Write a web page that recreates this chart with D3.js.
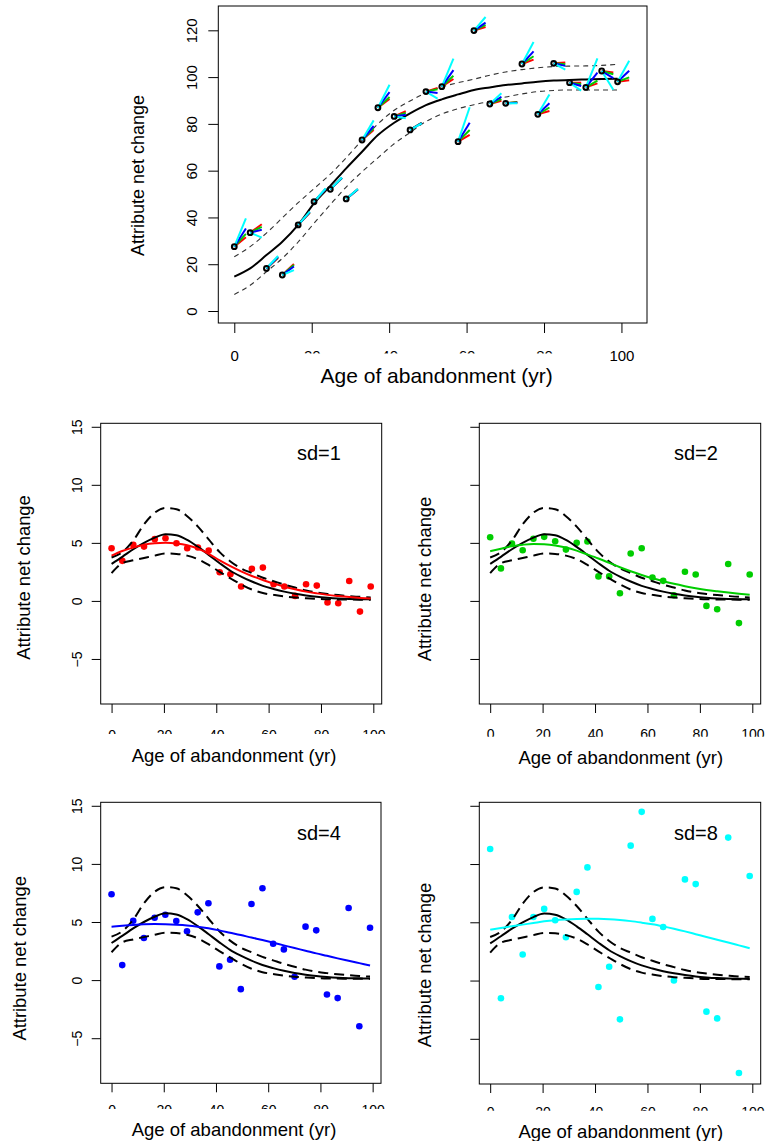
<!DOCTYPE html>
<meta charset="utf-8">
<style>
body { margin: 0; background: #fff; }
svg { font-family: "Liberation Sans", Arial, sans-serif; }
</style>
<svg width="765" height="1141"></svg>
<script src="https://d3js.org/d3.v7.min.js"></script>
<script>

// ---- data ----
var ages = [0, 4.1, 8.3, 12.4, 16.5, 20.6, 24.8, 28.9, 33, 37.1, 41.3, 45.4, 49.5,
            53.6, 57.8, 61.9, 66, 70.1, 74.3, 78.4, 82.5, 86.6, 90.8, 94.9, 99];

// top panel
var topValues = [27.5, 33.5, 18.2, 15.4, 36.8, 46.7, 52, 47.9, 73.1, 86.9, 83.2, 77.4, 93.8,
                 95.9, 72.4, 119.9, 88.5, 88.8, 105.6, 84.1, 105.9, 97.6, 95.6, 102.6, 98.0];
var topFit = [14.7, 18.2, 23.9, 29.6, 36.8, 46.0, 53.5, 61.0, 68.1, 75.2, 80.5, 84.5, 88.0,
              90.5, 92.6, 94.5, 95.6, 96.6, 97.3, 98.0, 98.5, 98.8, 99.0, 99.2, 99.3];
var topUpper = [23.2, 27.5, 33.3, 39.8, 46.3, 52.3, 58.5, 65.5, 73.0, 80.0, 85.8, 89.8, 93.2,
                95.8, 97.6, 99.1, 100.8, 102.2, 103.2, 104.0, 104.5, 104.7, 104.8, 105.0, 105.5];
var topLower = [7.1, 11.0, 16.8, 22.5, 29.5, 37.5, 45.5, 53.0, 59.5, 65.5, 71.5, 76.3, 81.0,
                84.2, 86.5, 88.2, 89.7, 91.5, 92.8, 93.8, 94.3, 94.5, 94.5, 94.5, 94.5];

// fan segments: rise of each segment end (value units) over a run of fanRun years
var fanRun = 3;
var fanRed   = [4.0, 3.6, 4.5, 4.7, 5.2, 5.3, 4.8, 4.1, 4.3, 3.8, 2.2, 3.0, 1.6,
                3.3, 2.9, 1.5, 1.4, 0.6, 1.9, 1.4, 0.3, 0.0, 1.7, -0.6, 0.7];
var fanGreen = [5.5, 2.5, 4.8, 4.3, 5.4, 5.4, 4.9, 4.2, 5.0, 4.6, 1.5, 3.0, 1.0,
                4.7, 5.0, 2.4, 2.1, 0.4, 3.3, 2.9, -0.4, -0.7, 2.9, -1.4, 1.9];
var fanBlue  = [7.8, 1.2, 5.0, 3.6, 5.5, 5.5, 5.0, 4.2, 6.0, 6.7, 0.7, 2.9, -0.6,
                7.1, 8.1, 3.4, 3.1, 0.2, 5.4, 4.7, -1.1, -1.4, 6.3, -3.0, 4.7];
var fanCyan  = [12.1, -2.1, 5.3, 2.1, 5.7, 5.7, 5.1, 4.3, 8.4, 9.8, -0.8, 2.8, -3.0,
                12.0, 14.7, 5.8, 4.6, 0.0, 9.4, 8.5, -2.7, -3.4, 12.4, -8.0, 9.0];

// lower panels: common true curve with bounds
var meanCurve  = [3.19, 3.8, 4.45, 5.0, 5.45, 5.75, 5.65, 5.25, 4.65, 3.97, 3.25, 2.6, 2.1,
                  1.67, 1.3, 1.03, 0.8, 0.62, 0.47, 0.35, 0.27, 0.21, 0.17, 0.15, 0.14];
var upperCurve = [3.74, 4.2, 5.2, 6.6, 7.6, 8.0, 7.9, 7.3, 6.4, 5.3, 4.2, 3.4, 2.8,
                  2.4, 2.0, 1.7, 1.4, 1.15, 0.9, 0.72, 0.6, 0.5, 0.42, 0.35, 0.3];
var lowerCurve = [2.4, 3.25, 3.5, 3.7, 3.9, 4.08, 4.05, 3.9, 3.6, 3.1, 2.5, 1.95, 1.42,
                  0.98, 0.68, 0.52, 0.38, 0.29, 0.23, 0.18, 0.14, 0.13, 0.12, 0.11, 0.11];

var sd1Points = [4.54, 3.45, 4.83, 4.68, 5.32, 5.4, 4.97, 4.54, 4.6, 4.34, 2.47, 2.3, 1.24,
                 2.76, 2.87, 1.44, 1.24, 0.43, 1.44, 1.32, -0.14, -0.2, 1.72, -0.92, 1.24];
var sd2Points = [5.49, 2.8, 4.94, 4.36, 5.35, 5.52, 5.14, 4.42, 5.0, 5.12, 2.11, 2.11, 0.66,
                 4.08, 4.54, 2.02, 1.73, 0.49, 2.51, 2.28, -0.43, -0.72, 3.18, -1.91, 2.28];
var sd4Points = [7.39, 1.29, 5.11, 3.62, 5.37, 5.63, 5.09, 4.2, 5.83, 6.61, 1.18, 1.75, -0.78,
                 6.55, 7.9, 3.13, 2.64, 0.29, 4.6, 4.28, -1.24, -1.55, 6.21, -3.97, 4.51];
var sd8Points = [11.29, -1.52, 5.46, 2.24, 5.46, 6.15, 5.17, 3.71, 7.61, 9.71, -0.55, 1.18, -3.33,
                 11.58, 14.48, 5.29, 4.6, 0.0, 8.68, 8.28, -2.67, -3.25, 12.27, -7.93, 8.97];

var sd1Smooth = [3.9, 4.3, 4.6, 4.85, 4.97, 5.0, 4.95, 4.8, 4.5, 4.05, 3.5, 3.0, 2.55,
                 2.15, 1.8, 1.5, 1.22, 1.0, 0.8, 0.65, 0.52, 0.42, 0.33, 0.26, 0.2];
var sd2Smooth = [4.28, 4.5, 4.71, 4.84, 4.91, 4.88, 4.78, 4.6, 4.33, 4.0, 3.65, 3.28, 2.9,
                 2.55, 2.23, 1.95, 1.7, 1.47, 1.27, 1.1, 0.95, 0.83, 0.72, 0.62, 0.53];
var sd4Smooth = [4.6, 4.68, 4.75, 4.8, 4.82, 4.8, 4.76, 4.7, 4.6, 4.46, 4.28, 4.08, 3.88,
                 3.66, 3.45, 3.22, 2.99, 2.76, 2.53, 2.3, 2.09, 1.87, 1.66, 1.46, 1.26];
var sd8Smooth = [4.37, 4.52, 4.66, 4.8, 4.94, 5.08, 5.18, 5.24, 5.28, 5.3, 5.3, 5.27, 5.2,
                 5.1, 4.97, 4.83, 4.65, 4.45, 4.22, 3.98, 3.74, 3.5, 3.26, 3.02, 2.78];

var sdLabels = ["sd=1", "sd=2", "sd=4", "sd=8"];
var ageTicks = [0, 20, 40, 60, 80, 100];
var topYTicks = [0, 20, 40, 60, 80, 100, 120];
var lowerYTicks = [-5, 0, 5, 10, 15];
var xTitle = "Age of abandonment (yr)";
var yTitle = "Attribute net change";

var RED = "#ff0000", GREEN = "#00cd00", BLUE = "#0000ff", CYAN = "#00ffff";

var svg = d3.select("svg");
var defs = svg.append("defs");
var clipCount = 0;

function zip(ys) { return ages.map(function(a, i) { return [a, ys[i]]; }); }

// frame, ticks, tick labels and titles, R style
function frame(p) {
  var x = d3.scaleLinear().domain(p.xDomain).range([p.box[0], p.box[1]]);
  var y = d3.scaleLinear().domain(p.yDomain).range([p.box[3], p.box[2]]);

  var clipId = "clip" + (clipCount++);
  defs.append("clipPath").attr("id", clipId)
    .append("rect")
      .attr("x", -60).attr("width", 120)
      .attr("y", -5).attr("height", p.clipRel + 5);

  var gx = svg.append("g")
      .attr("transform", "translate(0," + p.box[3] + ")")
      .call(d3.axisBottom(x).tickValues(ageTicks).tickSize(p.tickLen).tickSizeOuter(0)
            .tickFormat(d3.format("d")));
  gx.attr("font-size", p.tickFont).attr("font-family", null);
  gx.select(".domain").remove();
  gx.selectAll("line").attr("stroke", "#000");
  gx.selectAll("text")
      .attr("y", p.xLabelY).attr("dy", null)
      .attr("fill", "#000")
      .attr("clip-path", function(d) { return p.clipTick(d) ? "url(#" + clipId + ")" : null; });

  var gy = svg.append("g")
      .attr("transform", "translate(" + p.box[0] + ",0)")
      .call(d3.axisLeft(y).tickValues(p.yTicks).tickSize(p.tickLen).tickSizeOuter(0)
            .tickFormat(d3.format("d")));
  gy.attr("font-size", p.tickFont).attr("font-family", null);
  gy.select(".domain").remove();
  gy.selectAll("line").attr("stroke", "#000");
  if (p.yLabelOff) {
    gy.selectAll("text")
        .attr("x", 0).attr("y", -p.yLabelOff).attr("dy", null)
        .attr("text-anchor", "middle")
        .attr("transform", "rotate(-90)")
        .attr("fill", "#000");
  } else {
    gy.selectAll("text").remove();
  }

  svg.append("rect")
      .attr("x", p.box[0]).attr("y", p.box[2])
      .attr("width", p.box[1] - p.box[0]).attr("height", p.box[3] - p.box[2])
      .attr("fill", "none").attr("stroke", "#000").attr("stroke-width", 1);

  svg.append("text")
      .attr("x", p.xTitle[0]).attr("y", p.xTitle[1])
      .attr("text-anchor", "middle")
      .style("font-size", p.xTitle[2] + "px")
      .text(xTitle);

  svg.append("text")
      .attr("transform", "translate(" + p.yTitle[0] + "," + p.yTitle[1] + ") rotate(-90)")
      .attr("text-anchor", "middle")
      .style("font-size", p.yTitle[2] + "px")
      .text(yTitle);

  return {x: x, y: y};
}

// ---- top panel ----
var topPanel = frame({
  box: [218.3, 647, 6, 323],
  xDomain: [-4.13, 106.6], yDomain: [-5.13, 130.4],
  yTicks: topYTicks, tickLen: 10, tickFont: 15,
  xLabelY: 37.7, yLabelOff: 21.3,
  clipRel: 30.5, clipTick: function(d) { return d > 0 && d < 100; },
  xTitle: [436.7, 383, 21], yTitle: [144, 175.5, 18]
});

var topLine = d3.line()
    .x(function(d) { return topPanel.x(d[0]); })
    .y(function(d) { return topPanel.y(d[1]); })
    .curve(d3.curveMonotoneX);

[topUpper, topLower].forEach(function(s) {
  svg.append("path").datum(zip(s))
      .attr("fill", "none").attr("stroke", "#333").attr("stroke-width", 1.1)
      .attr("stroke-dasharray", "5,4").attr("d", topLine);
});
svg.append("path").datum(zip(topFit))
    .attr("fill", "none").attr("stroke", "#000").attr("stroke-width", 2)
    .attr("d", topLine);

var fans = [[fanRed, RED], [fanGreen, GREEN], [fanBlue, BLUE], [fanCyan, CYAN]];
fans.forEach(function(f) {
  svg.append("g").selectAll("line")
    .data(ages)
    .join("line")
      .attr("x1", function(a) { return topPanel.x(a); })
      .attr("y1", function(a, i) { return topPanel.y(topValues[i]); })
      .attr("x2", function(a) { return topPanel.x(a + fanRun); })
      .attr("y2", function(a, i) { return topPanel.y(topValues[i] + f[0][i]); })
      .attr("stroke", f[1]).attr("stroke-width", 2);
});

svg.append("g").selectAll("circle")
  .data(ages)
  .join("circle")
    .attr("cx", function(a) { return topPanel.x(a); })
    .attr("cy", function(a, i) { return topPanel.y(topValues[i]); })
    .attr("r", 2.4)
    .attr("fill", "none").attr("stroke", "#000").attr("stroke-width", 2);

// ---- four noise panels ----
var lowerPanels = [
  {box: [100.7, 381.7, 423.3, 704], xLabelY: 35.5, clipRel: 30, yLabelOff: 19,
   xTitle: [234, 761.7, 18.5], yTitle: [29.6, 577.5, 18.4], label: [297, 460],
   points: sd1Points, smooth: sd1Smooth, color: RED},
  {box: [479.3, 760.7, 423.3, 704], xLabelY: 34.5, clipRel: 32.7, yLabelOff: 0,
   xTitle: [620.8, 764, 18.5], yTitle: [431.2, 579, 18.4], label: [674, 460],
   points: sd2Points, smooth: sd2Smooth, color: GREEN},
  {box: [100.7, 381, 802.3, 1083.3], xLabelY: 31.8, clipRel: 25.7, yLabelOff: 19,
   xTitle: [234, 1136, 18.5], yTitle: [26.2, 958.3, 18.4], label: [297, 840],
   points: sd4Points, smooth: sd4Smooth, color: BLUE},
  {box: [479.3, 760.7, 802.3, 1084], xLabelY: 33, clipRel: 26.7, yLabelOff: 0,
   xTitle: [620.8, 1138, 18.5], yTitle: [431, 965, 18.4], label: [674, 840],
   points: sd8Points, smooth: sd8Smooth, color: CYAN}
];

lowerPanels.forEach(function(p, k) {
  p.xDomain = [-4.15, 103.2];
  p.yDomain = [-8.88, 15.3];
  p.yTicks = lowerYTicks;
  p.tickLen = 9;
  p.tickFont = 14;
  p.clipTick = function() { return true; };
  var s = frame(p);

  var line = d3.line()
      .x(function(d) { return s.x(d[0]); })
      .y(function(d) { return s.y(d[1]); })
      .curve(d3.curveMonotoneX);

  svg.append("g").selectAll("circle")
    .data(ages)
    .join("circle")
      .attr("cx", function(a) { return s.x(a); })
      .attr("cy", function(a, i) { return s.y(p.points[i]); })
      .attr("r", 3.3)
      .attr("fill", p.color);

  [upperCurve, lowerCurve].forEach(function(c) {
    svg.append("path").datum(zip(c))
        .attr("fill", "none").attr("stroke", "#000").attr("stroke-width", 2)
        .attr("stroke-dasharray", "10,6").attr("d", line);
  });
  svg.append("path").datum(zip(meanCurve))
      .attr("fill", "none").attr("stroke", "#000").attr("stroke-width", 2)
      .attr("d", line);
  svg.append("path").datum(zip(p.smooth))
      .attr("fill", "none").attr("stroke", p.color).attr("stroke-width", 2)
      .attr("d", line);

  svg.append("text")
      .attr("x", p.label[0]).attr("y", p.label[1])
      .style("font-size", "20px")
      .text(sdLabels[k]);
});

</script>
